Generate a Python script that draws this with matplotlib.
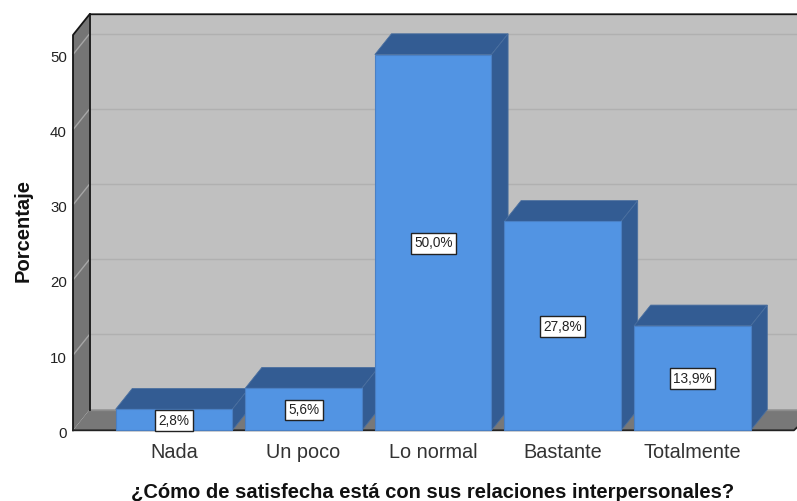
# 3D-look bar chart, depth is faked with polygons
import matplotlib
matplotlib.use("Agg")
import matplotlib.pyplot as plt
from matplotlib.patches import Polygon, Rectangle
from matplotlib.transforms import ScaledTranslation

categories = ["Nada", "Un poco", "Lo normal", "Bastante", "Totalmente"]
values = [2.8, 5.6, 50.0, 27.8, 13.9]
labels = ["2,8%", "5,6%", "50,0%", "27,8%", "13,9%"]
yticks = [0, 10, 20, 30, 40, 50]

plt.rcParams["font.family"] = ["Liberation Sans", "DejaVu Sans"]

W, H = 797, 501
fig = plt.figure(figsize=(W / 100, H / 100), dpi=100)
ax = fig.add_axes([73 / W, 1 - 430.3 / H, (794 - 73) / W, (430.3 - 35) / H])

XMIN, XMAX = -0.779, 4.784
YMAX = 52.6
BAR_W = 0.9
DX, DY = 0.128, 2.76   # depth offset in data units
ax.set_xlim(XMIN, XMAX)
ax.set_ylim(0, YMAX)


def poly(pts, fc, ec="none", lw=0.0, z=1):
    ax.add_patch(Polygon(pts, closed=True, facecolor=fc, edgecolor=ec,
                         linewidth=lw, zorder=z, clip_on=False))


# ── walls ─────────────────────────────────────────────────────────────────────
poly([(XMIN + DX, DY), (XMAX + DX, DY), (XMAX + DX, YMAX + DY), (XMIN + DX, YMAX + DY)],
     "#c0c0c0")
poly([(XMIN, 0), (XMIN + DX, DY), (XMIN + DX, YMAX + DY), (XMIN, YMAX)], "#757575")
poly([(XMIN, 0), (XMAX, 0), (XMAX + DX, DY), (XMIN + DX, DY)], "#787878")

for t in yticks[1:]:
    ax.plot([XMIN + DX, XMAX + DX], [t + DY, t + DY], color="#b0b0b0", lw=1.0, zorder=2,
            clip_on=False)
    ax.plot([XMIN, XMIN + DX], [t, t + DY], color="#a6a6a6", lw=1.0, zorder=2, clip_on=False)
ax.plot([XMIN + DX, XMAX + DX], [DY, DY], color="#8c8c8c", lw=1.0, zorder=2, clip_on=False)

# black frame
ax.plot([XMIN, XMIN, XMIN + DX, XMAX + DX], [0, YMAX, YMAX + DY, YMAX + DY],
        color="#151515", lw=1.3, zorder=3, clip_on=False)
ax.plot([XMIN + DX, XMIN + DX], [DY, YMAX + DY], color="#151515", lw=1.3, zorder=3,
        clip_on=False)
ax.plot([XMIN, XMAX, XMAX + 0.03], [0, 0, 0.5], color="#222222", lw=1.3, zorder=3,
        clip_on=False)

# ── bars ──────────────────────────────────────────────────────────────────────
for i, v in enumerate(values):
    x0, x1 = i - BAR_W / 2, i + BAR_W / 2
    poly([(x0, v), (x1, v), (x1 + DX, v + DY), (x0 + DX, v + DY)], "#335c93",
         ec="#4a6f9f", lw=0.6, z=4 + i)
    poly([(x1, 0), (x1 + DX, DY), (x1 + DX, v + DY), (x1, v)], "#335c93",
         ec="#4a6f9f", lw=0.6, z=4 + i)
    ax.add_patch(Rectangle((x0, 0), BAR_W, v, facecolor="#5294e3", edgecolor="#4a80c4",
                           linewidth=0.8, zorder=4 + i, clip_on=False))

for i, (v, lab) in enumerate(zip(values, labels)):
    ax.text(i, v / 2 - 0.1, lab, ha="center", va="center", fontsize=9.8, color="#222222",
            zorder=20,
            bbox=dict(boxstyle="square,pad=0.25", facecolor="white", edgecolor="#222222",
                      linewidth=1.0))

# ── axes and text ─────────────────────────────────────────────────────────────
for s in ax.spines.values():
    s.set_visible(False)
ax.patch.set_visible(False)
ax.set_xticks(range(len(categories)), categories, fontsize=14.3, color="#333333")
ax.set_yticks(yticks, [str(t) for t in yticks], fontsize=10.8, color="#222222")
ax.tick_params(axis="x", length=0, pad=9)
ax.tick_params(axis="y", length=0, pad=4.5)

# y labels sit a little under their gridline in the original
shift = ScaledTranslation(0, -2 / 100, fig.dpi_scale_trans)
for lab in ax.get_yticklabels():
    lab.set_transform(lab.get_transform() + shift)

fig.text(433 / W, 1 - 492 / H, "¿Cómo de satisfecha está con sus relaciones interpersonales?",
         ha="center", va="center", fontsize=14.5, fontweight="bold", color="#111111")
fig.text(23 / W, 1 - 231 / H, "Porcentaje", rotation=90, ha="center", va="center",
         fontsize=14.5, fontweight="bold", color="#111111")

fig.savefig("out.png", dpi=100)
